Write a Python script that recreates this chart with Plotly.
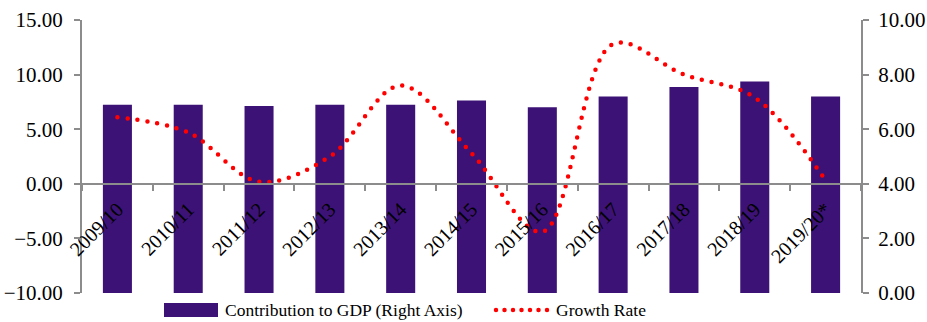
import plotly.graph_objects as go

# Fiscal years on the category axis
years = ["2009/10", "2010/11", "2011/12", "2012/13", "2013/14", "2014/15",
         "2015/16", "2016/17", "2017/18", "2018/19", "2019/20*"]

# Sector contribution to GDP (%), plotted against the right axis
contribution = [6.9, 6.9, 6.85, 6.9, 6.9, 7.05, 6.8, 7.2, 7.55, 7.75, 7.2]

# Annual growth rate (%), plotted against the left axis
growth = [6.1, 4.7, 0.2, 2.5, 9.0, 2.8, -4.4, 12.8, 10.0, 7.9, 0.3]

bar_name = "Contribution to GDP (Right Axis)"
line_name = "Growth Rate"

# Axis ranges and tick values
left_range = [-10, 15]
left_ticks = [-10, -5, 0, 5, 10, 15]
right_range = [0, 10]
right_ticks = [0, 2, 4, 6, 8, 10]

FONT = "Liberation Serif, Times New Roman, serif"
AXIS_GREY = "#8c8c8c"
BAR_PURPLE = "#3d1276"
LINE_RED = "#ff0000"

W, H = 927, 322
M = dict(l=82, r=66, t=20, b=29)
PW = W - M["l"] - M["r"]
PH = H - M["t"] - M["b"]


def px_x(x):
    """Pixel column -> paper x."""
    return (x - M["l"]) / PW


def px_y(y):
    """Pixel row -> paper y."""
    return (H - M["b"] - y) / PH


fig = go.Figure()

# Bars sit on the primary axis so the growth line is drawn on top of them
fig.add_trace(go.Bar(
    x=years, y=contribution, yaxis="y",
    name=bar_name, showlegend=False,
    marker=dict(color=BAR_PURPLE, line=dict(width=0)),
))

fig.add_trace(go.Scatter(
    x=years, y=growth, yaxis="y2",
    name=line_name, mode="lines", showlegend=False,
    line=dict(color=LINE_RED, width=4.5, dash="0px,10px",
              shape="spline", smoothing=1.0),
))

# The category axis crosses the left (growth) axis at zero
zero_pos = (0 - left_range[0]) / (left_range[1] - left_range[0])

axis_common = dict(
    showline=True, linecolor=AXIS_GREY, linewidth=2,
    ticks="outside", ticklen=6, tickcolor=AXIS_GREY, tickwidth=2,
    showgrid=False, zeroline=False, tickformat=".2f",
    tickfont=dict(family=FONT, size=21),
)

fig.update_layout(
    width=W, height=H,
    margin=dict(**M, autoexpand=False),
    paper_bgcolor="white", plot_bgcolor="white",
    font=dict(family=FONT, size=20, color="#000000"),
    bargap=0.59,
    showlegend=False,
    xaxis=dict(
        type="category", anchor="free", position=zero_pos,
        showline=True, linecolor=AXIS_GREY, linewidth=2,
        ticks="outside", tickson="boundaries", ticklen=6,
        tickcolor=AXIS_GREY, tickwidth=2, ticklabelstandoff=5,
        tickangle=-45, showgrid=False, zeroline=False,
        tickfont=dict(family=FONT, size=20),
    ),
    yaxis=dict(range=right_range, tickvals=right_ticks, side="right",
               ticklabelstandoff=5, **axis_common),
    yaxis2=dict(range=left_range, tickvals=left_ticks, side="left",
                overlaying="y", ticklabelstandoff=7, **axis_common),
)

# Legend row below the plot: a wide bar swatch and a dotted line sample
leg_top, leg_bot = 303, 317
leg_mid = (leg_top + leg_bot) / 2
fig.add_shape(type="rect", xref="paper", yref="paper",
              x0=px_x(164), x1=px_x(218), y0=px_y(leg_bot), y1=px_y(leg_top),
              fillcolor=BAR_PURPLE, line=dict(width=0))
fig.add_annotation(xref="paper", yref="paper", x=px_x(223), y=px_y(leg_mid),
                   text=bar_name, showarrow=False, xanchor="left",
                   yanchor="middle", font=dict(family=FONT, size=17.5))
fig.add_shape(type="line", xref="paper", yref="paper",
              x0=px_x(496), x1=px_x(550), y0=px_y(leg_mid), y1=px_y(leg_mid),
              line=dict(color=LINE_RED, width=4.5, dash="0px,8.5px"))
fig.add_annotation(xref="paper", yref="paper", x=px_x(554), y=px_y(leg_mid),
                   text=line_name, showarrow=False, xanchor="left",
                   yanchor="middle", font=dict(family=FONT, size=17.5))

# Round caps turn the dotted strokes into round dots
post = """
var s = document.createElement('style');
s.innerHTML = '.scatterlayer .js-line, .shapelayer path { stroke-linecap: round; }';
document.head.appendChild(s);
"""

fig.write_html("out.html", post_script=post)
